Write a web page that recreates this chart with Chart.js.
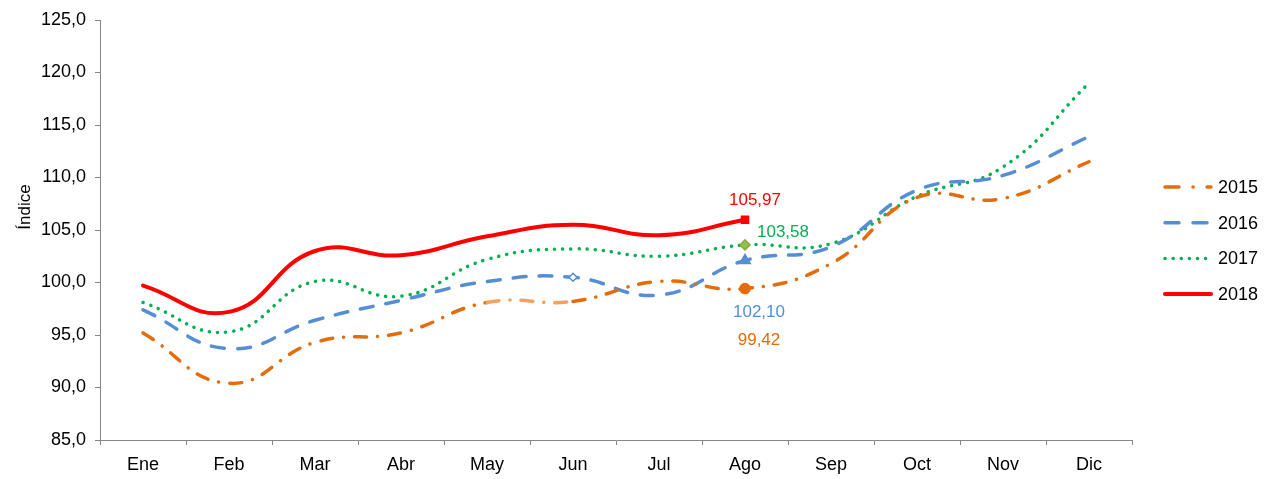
<!DOCTYPE html>
<html>
<head>
<meta charset="utf-8">
<script src="https://cdn.jsdelivr.net/npm/chart.js@4"></script>
<style>
  body { margin: 0; background: #fff; }
  #wrap { width: 1265px; height: 479px; }
</style>
</head>
<body>
<div id="wrap"><canvas id="chart" width="1265" height="479"></canvas></div>
<script>
// data
const months = ["Ene","Feb","Mar","Abr","May","Jun","Jul","Ago","Sep","Oct","Nov","Dic"];
const v2015 = [95.2, 90.4, 94.3, 95.2, 98.1, 98.2, 100.1, 99.42, 101.8, 108.1, 108.0, 111.5];
const v2016 = [97.4, 93.7, 96.4, 98.3, 100.1, 100.5, 98.8, 102.10, 103.4, 108.8, 110.2, 113.9];
const v2017 = [98.1, 95.3, 100.1, 98.7, 102.2, 103.2, 102.5, 103.58, 103.7, 108.2, 111.0, 119.0];
const v2018 = [99.7, 97.2, 103.0, 102.6, 104.4, 105.5, 104.5, 105.97];
const yTicks = { min: 85, max: 125, step: 5 };
const labelIdx = 7; // Ago

const fmt = v => v.toFixed(2).replace(".", ",");
const FONT = "'Liberation Sans', Arial, sans-serif";

const styles = [
  { label: "2015", color: "#E46C0A", dash: [12, 11, 0.1, 11], width: 3.5 },
  { label: "2016", color: "#558ED5", dash: [13, 13], width: 3.5 },
  { label: "2017", color: "#00B050", dash: [0.1, 8], width: 3.5 },
  { label: "2018", color: "#FF0000", dash: [], width: 4 }
];

// per-series markers at Ago
const markers = [
  { style: "circle",   r: 5, fill: "#E46C0A", stroke: "#E46C0A" },
  { style: "triangle", r: 6, fill: "#558ED5", stroke: "#558ED5" },
  { style: "rectRot",  r: 5, fill: "#92C050", stroke: "#8DA83A" },
  { style: "rect",     r: 5, fill: "#FF0000", stroke: "#FF0000" }
];

// label offsets from the Ago point
const labelOff = [
  { dx: 14, dy: 52, align: "center" },
  { dx: 14, dy: 52, align: "center" },
  { dx: 12, dy: -13, align: "left" },
  { dx: 10, dy: -20, align: "center" }
];

const series = [v2015, v2016, v2017, v2018];

const datasets = series.map((vals, i) => {
  const s = styles[i], m = markers[i];
  return {
    label: s.label,
    data: vals,
    borderColor: s.color,
    borderWidth: s.width,
    borderDash: s.dash,
    borderCapStyle: "round",
    borderJoinStyle: "round",
    tension: 0.45,
    fill: false,
    pointStyle: ctx => (i === 1 && ctx.dataIndex === 5) ? "rectRot" : m.style,
    pointRadius: ctx => ctx.dataIndex === labelIdx ? m.r : (i === 1 && ctx.dataIndex === 5 ? 4 : 0),
    pointBackgroundColor: ctx => (i === 1 && ctx.dataIndex === 5) ? "#fff" : m.fill,
    pointBorderColor: m.stroke,
    pointBorderWidth: 1.5,
    pointHoverRadius: 0,
    segment: i === 0 ? {
      borderColor: ctx => ctx.p0DataIndex === 4 ? "#F6A05C" : undefined
    } : undefined
  };
});

// value labels, legend and y title
const extras = {
  id: "extras",
  afterDatasetsDraw(chart) {
    const ctx = chart.ctx;
    ctx.save();
    ctx.font = "17px " + FONT;
    ctx.textBaseline = "middle";
    series.forEach((vals, i) => {
      const pt = chart.getDatasetMeta(i).data[labelIdx];
      if (!pt) return;
      const o = labelOff[i];
      ctx.fillStyle = styles[i].color;
      ctx.textAlign = o.align;
      ctx.fillText(fmt(vals[labelIdx]), pt.x + o.dx, pt.y + o.dy);
    });

    // legend
    const lx = 1165, lw = 46, top = 187, gap = 35.7;
    styles.forEach((s, i) => {
      const y = top + i * gap;
      ctx.beginPath();
      ctx.strokeStyle = s.color;
      ctx.lineWidth = s.width;
      ctx.lineCap = "round";
      ctx.setLineDash(i === 0 ? [14, 14, 0.1, 14] : i === 1 ? [14, 14] : s.dash);
      ctx.moveTo(lx, y);
      ctx.lineTo(lx + lw, y);
      ctx.stroke();
      ctx.setLineDash([]);
      ctx.fillStyle = "#000";
      ctx.textAlign = "left";
      ctx.font = "18px " + FONT;
      ctx.fillText(s.label, 1218, y + 1);
    });

    // y axis title
    ctx.translate(25, 207);
    ctx.rotate(-Math.PI / 2);
    ctx.font = "17px " + FONT;
    ctx.textAlign = "center";
    ctx.fillStyle = "#000";
    ctx.fillText("Índice", 0, 0);
    ctx.restore();
  }
};

new Chart(document.getElementById("chart"), {
  type: "line",
  data: { labels: months, datasets },
  plugins: [extras],
  options: {
    responsive: false,
    animation: false,
    layout: { padding: { left: 0, right: 133, top: 20, bottom: 0 } },
    plugins: { legend: { display: false }, tooltip: { enabled: false } },
    scales: {
      x: {
        offset: true,
        grid: { drawOnChartArea: false, drawTicks: true, tickLength: 5, offset: true, color: "#868686" },
        border: { color: "#868686" },
        ticks: { color: "#000", font: { family: FONT, size: 18 }, padding: 9, maxRotation: 0, autoSkip: false },
        afterFit: s => { s.height = 39; }
      },
      y: {
        min: yTicks.min,
        max: yTicks.max,
        grid: { drawOnChartArea: false, drawTicks: true, tickLength: 5, color: "#868686" },
        border: { color: "#868686" },
        ticks: {
          stepSize: yTicks.step,
          color: "#000",
          font: { family: FONT, size: 18 },
          padding: 9,
          callback: v => v.toFixed(1).replace(".", ",")
        },
        afterFit: s => { s.width = 100; }
      }
    }
  }
});
</script>
</body>
</html>
